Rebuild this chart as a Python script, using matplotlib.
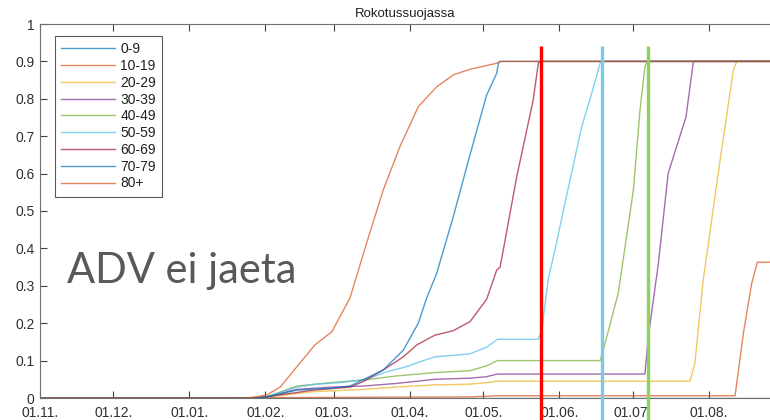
import matplotlib
matplotlib.use('Agg')
import matplotlib.pyplot as plt


# Days counted from 01.11.
month_ticks = [0, 30, 61, 92, 120, 151, 181, 212, 242, 273]
month_labels = ['01.11.', '01.12.', '01.01.', '01.02.', '01.03.',
                '01.04.', '01.05.', '01.06.', '01.07.', '01.08.']

groups = ['0-9', '10-19', '20-29', '30-39', '40-49',
          '50-59', '60-69', '70-79', '80+']

d_0_9 = [0, 310]
v_0_9 = [0, 0]

d_10_19 = [0, 92.5, 175.5, 186.5, 283.7, 287.1, 290.5, 292.8, 310]
v_10_19 = [0, 0.001, 0.003, 0.006, 0.006, 0.173, 0.307, 0.363, 0.363]

d_20_29 = [0, 88, 92.5, 111.6, 132.0, 146.9, 161.2, 175.5, 182.3, 186.7,
           265.3, 267.3, 270.7, 277.6, 283.0, 284.4, 310]
v_20_29 = [0, 0, 0.003, 0.017, 0.023, 0.030, 0.035, 0.037, 0.041, 0.045,
           0.045, 0.093, 0.316, 0.636, 0.877, 0.9, 0.9]

d_30_39 = [0, 88, 92.5, 104.8, 118.4, 132.0, 145.6, 161.2, 175.5, 182.3,
           186.7, 246.9, 248.3, 252.4, 256.4, 263.7, 265.3, 266.7, 310]
v_30_39 = [0, 0, 0.003, 0.023, 0.029, 0.032, 0.039, 0.050, 0.053, 0.057,
           0.064, 0.064, 0.164, 0.360, 0.601, 0.752, 0.832, 0.9, 0.9]

d_40_49 = [0, 88, 92.5, 104.8, 118.4, 132.0, 145.6, 161.2, 175.5, 182.3,
           186.7, 228.6, 229.9, 236.0, 242.2, 244.9, 246.9, 247.9, 310]
v_40_49 = [0, 0, 0.003, 0.032, 0.041, 0.048, 0.059, 0.068, 0.073, 0.086,
           0.100, 0.100, 0.128, 0.280, 0.556, 0.770, 0.886, 0.9, 0.9]

d_50_59 = [0, 88, 92.5, 104.8, 112.9, 122.4, 133.3, 141.5, 149.7, 153.8,
           161.2, 175.5, 182.3, 186.7, 203.4, 204.8, 207.5, 210.2, 215.0,
           221.1, 225.2, 228.6, 229.0, 310]
v_50_59 = [0, 0, 0.003, 0.029, 0.037, 0.041, 0.050, 0.070, 0.084, 0.094,
           0.110, 0.118, 0.136, 0.157, 0.157, 0.182, 0.320, 0.396, 0.543,
           0.725, 0.815, 0.895, 0.9, 0.9]

d_60_69 = [0, 88, 92.5, 111.4, 126.5, 132.0, 140.1, 148.3, 153.8, 161.2,
           168.7, 175.5, 182.3, 186.4, 187.8, 194.6, 200.0, 201.3, 203.4,
           204.1, 310]
v_60_69 = [0, 0, 0.003, 0.021, 0.029, 0.044, 0.075, 0.110, 0.142, 0.168,
           0.180, 0.204, 0.264, 0.342, 0.350, 0.592, 0.757, 0.797, 0.895,
           0.9, 0.9]

d_70_79 = [0, 88, 92.5, 104.8, 118.4, 126.5, 140.1, 148.3, 154.4, 157.8,
           161.9, 168.7, 175.5, 182.3, 186.4, 187.1, 187.8, 310]
v_70_79 = [0, 0, 0.003, 0.021, 0.026, 0.032, 0.075, 0.128, 0.200, 0.267,
           0.333, 0.485, 0.650, 0.810, 0.868, 0.895, 0.9, 0.9]

d_80 = [0, 85, 92.5, 98.0, 112.2, 119.1, 126.5, 133.3, 140.1, 146.9,
        154.4, 161.9, 168.7, 175.5, 186.4, 187.8, 310]
v_80 = [0, 0, 0.008, 0.029, 0.142, 0.177, 0.267, 0.414, 0.556, 0.672,
        0.779, 0.832, 0.864, 0.879, 0.895, 0.9, 0.9]

series_days = [d_0_9, d_10_19, d_20_29, d_30_39, d_40_49,
               d_50_59, d_60_69, d_70_79, d_80]
series_vals = [v_0_9, v_10_19, v_20_29, v_30_39, v_40_49,
               v_50_59, v_60_69, v_70_79, v_80]

# matlab default line order
colors = ['#0072bd', '#d95319', '#edb120', '#7e2f8e', '#77ac30',
          '#4dbeee', '#a2142f', '#0072bd', '#d95319']

# marker lines drawn over the chart
marker_days = [204.5, 229.4, 248.2]
marker_colors = ['#ff0000', '#7ccbe4', '#8ad45e']

title = 'Rokotussuojassa'
note = 'ADV ei jaeta'

plt.rcParams['font.family'] = ['Liberation Sans', 'DejaVu Sans']

fig = plt.figure(figsize=(7.7, 4.2), dpi=100)
ax = fig.add_axes([40 / 770, 1 - 398 / 420, 760 / 770, 374 / 420])

for d, v, c, g in zip(series_days, series_vals, colors, groups):
    ax.plot(d, v, color=c, lw=1.0, alpha=0.7, label=g)

for d, c in zip(marker_days, marker_colors):
    ax.plot([d, d], [-0.07, 0.941], color=c, lw=2.4, clip_on=False,
            solid_capstyle='butt', zorder=5)

ax.set_xlim(0, 760 / 2.45)
ax.set_ylim(0, 1)
ax.set_xticks(month_ticks)
ax.set_xticklabels(month_labels)
ax.set_yticks([i / 10 for i in range(11)])
ax.set_yticklabels(['0'] + ['0.%d' % i for i in range(1, 10)] + ['1'])
ax.tick_params(direction='in', length=5, width=0.8, color='#404040',
               labelsize=10, labelcolor='#303030', top=True, right=False)
ax.tick_params(axis='x', pad=6)
ax.tick_params(axis='y', pad=4)
for s in ax.spines.values():
    s.set_color('#707070')
    s.set_linewidth(0.8)
ax.spines['right'].set_visible(False)

ax.set_title(title, fontsize=9.5, color='#202020', x=(405 - 40) / 760, pad=5)

leg = ax.legend(loc='upper left', bbox_to_anchor=(15 / 760, 1 - 12 / 374),
                fontsize=10, frameon=True, fancybox=False, handlelength=3.9,
                handletextpad=0.35, labelspacing=0.2, borderpad=0.45,
                borderaxespad=0)
leg.get_frame().set_edgecolor('#303030')
leg.get_frame().set_linewidth(0.8)
for t in leg.get_texts():
    t.set_color('#202020')

fig.text(67 / 770, 1 - 283 / 420, note, fontsize=30, color='#595959',
         family=['Lato', 'DejaVu Sans'], va='baseline')

fig.savefig('out.png', dpi=100)
